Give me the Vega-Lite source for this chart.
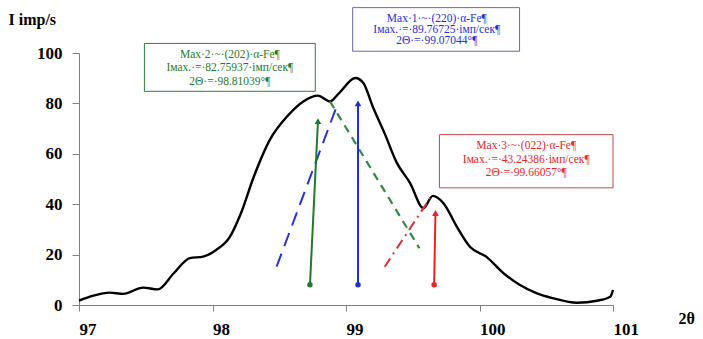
{
  "$schema": "https://vega.github.io/schema/vega-lite/v6.json",
  "autosize": {"type": "none"},
  "width": 534,
  "height": 252,
  "padding": {"left": 79, "top": 53, "right": 90, "bottom": 34},
  "background": "white",
  "config": {"view": {"stroke": null}},
  "datasets": {
    "curve": [
      {"t": 97.0, "i": 1.7}, {"t": 97.107, "i": 3.7}, {"t": 97.23, "i": 4.9}, {"t": 97.33, "i": 4.4},
      {"t": 97.48, "i": 6.9}, {"t": 97.59, "i": 6.2}, {"t": 97.71, "i": 12.6}, {"t": 97.83, "i": 18.6},
      {"t": 97.93, "i": 19.2}, {"t": 98.03, "i": 21.9}, {"t": 98.13, "i": 27.0}, {"t": 98.21, "i": 36.0},
      {"t": 98.31, "i": 51.0}, {"t": 98.43, "i": 65.6}, {"t": 98.56, "i": 74.9}, {"t": 98.68, "i": 80.8},
      {"t": 98.79, "i": 83.1}, {"t": 98.88, "i": 80.8}, {"t": 98.95, "i": 84.2}, {"t": 99.07, "i": 90.1},
      {"t": 99.13, "i": 88.1}, {"t": 99.2, "i": 78.8}, {"t": 99.29, "i": 68.0}, {"t": 99.38, "i": 56.5},
      {"t": 99.48, "i": 48.4}, {"t": 99.58, "i": 38.4}, {"t": 99.65, "i": 43.3}, {"t": 99.73, "i": 40.4},
      {"t": 99.83, "i": 31.1}, {"t": 99.93, "i": 23.0}, {"t": 100.05, "i": 19.2}, {"t": 100.18, "i": 12.6},
      {"t": 100.3, "i": 8.0}, {"t": 100.43, "i": 4.6}, {"t": 100.55, "i": 2.7}, {"t": 100.73, "i": 0.9},
      {"t": 100.88, "i": 1.7}, {"t": 100.98, "i": 3.3}, {"t": 101.0, "i": 6.0}
    ],
    "arrows": [
      {"peak": "p2", "x": 98.73, "y": 8, "x2": 98.79, "y2": 73},
      {"peak": "p1", "x": 99.09, "y": 8, "x2": 99.09, "y2": 80},
      {"peak": "p3", "x": 99.66, "y": 8, "x2": 99.67, "y2": 36.5}
    ],
    "boxes": [
      {"peak": "p2", "x": 97.49, "x2": 98.77, "y": 103.8, "y2": 84.8},
      {"peak": "p1", "x": 99.05, "x2": 100.3, "y": 118.0, "y2": 100.7},
      {"peak": "p3", "x": 99.7, "x2": 101.0, "y": 67.6, "y2": 46.5}
    ],
    "labels": [
      {"peak": "p2", "x": 98.13, "y": 99.4, "txt": "Max·2·~·(202)·α-Fe¶"},
      {"peak": "p2", "x": 98.13, "y": 94.0, "txt": "Iмах.·=·82.75937·імп/сек¶"},
      {"peak": "p2", "x": 98.13, "y": 88.6, "txt": "2Θ·=·98.81039°¶"},
      {"peak": "p1", "x": 99.68, "y": 113.6, "txt": "Max·1·~·(220)·α-Fe¶"},
      {"peak": "p1", "x": 99.68, "y": 109.2, "txt": "Iмах.·=·89.76725·імп/сек¶"},
      {"peak": "p1", "x": 99.68, "y": 104.8, "txt": "2Θ·=·99.07044°¶"},
      {"peak": "p3", "x": 100.35, "y": 62.9, "txt": "Max·3·~·(022)·α-Fe¶"},
      {"peak": "p3", "x": 100.35, "y": 57.6, "txt": "Iмах.·=·43.24386·імп/сек¶"},
      {"peak": "p3", "x": 100.35, "y": 52.3, "txt": "2Θ·=·99.66057°¶"}
    ]
  },
  "layer": [
    {
      "data": {"name": "curve"},
      "mark": {"type": "line", "color": "black", "strokeWidth": 2.4, "interpolate": "monotone"},
      "encoding": {
        "x": {
          "field": "t", "type": "quantitative",
          "scale": {"domain": [97, 101], "nice": false, "zero": false},
          "axis": {
            "values": [97, 98, 99, 100, 101], "grid": false, "format": "d",
            "domainColor": "#808080", "tickColor": "#808080", "tickSize": 6,
            "labelFont": "Liberation Serif", "labelFontWeight": "bold", "labelFontSize": 17,
            "labelColor": "black", "labelAlign": "left", "labelPadding": 10, "labelFlush": false,
            "title": "2θ", "titleFont": "Liberation Serif", "titleFontWeight": "bold", "titleFontSize": 16,
            "titleColor": "black", "titleAnchor": "start", "titleAlign": "left", "titleBaseline": "alphabetic",
            "titleX": 599, "titleY": 18
          }
        },
        "y": {
          "field": "i", "type": "quantitative",
          "scale": {"domain": [0, 100], "nice": false},
          "axis": {
            "values": [0, 20, 40, 60, 80, 100], "grid": false,
            "domainColor": "#808080", "tickColor": "#808080", "tickSize": 7,
            "labelFont": "Liberation Serif", "labelFontWeight": "bold", "labelFontSize": 17,
            "labelColor": "black", "labelPadding": 10,
            "title": "I imp/s", "titleFont": "Liberation Serif", "titleFontWeight": "bold", "titleFontSize": 16,
            "titleColor": "black", "titleAngle": 0, "titleAlign": "left", "titleBaseline": "alphabetic",
            "titleX": -71, "titleY": -29
          }
        }
      }
    },
    {
      "data": {"values": [{"x": 98.48, "y": 15.2, "x2": 98.94, "y2": 80.2}]},
      "mark": {"type": "rule", "color": "#2233dd", "strokeWidth": 2, "strokeDash": [14, 8]},
      "encoding": {
        "x": {"field": "x", "type": "quantitative"}, "y": {"field": "y", "type": "quantitative"},
        "x2": {"field": "x2"}, "y2": {"field": "y2"}
      }
    },
    {
      "data": {"values": [{"x": 98.88, "y": 80.8, "x2": 99.55, "y2": 22.5}]},
      "mark": {"type": "rule", "color": "#2e8b3e", "strokeWidth": 2.2, "strokeDash": [8, 6]},
      "encoding": {
        "x": {"field": "x", "type": "quantitative"}, "y": {"field": "y", "type": "quantitative"},
        "x2": {"field": "x2"}, "y2": {"field": "y2"}
      }
    },
    {
      "data": {"values": [{"x": 99.29, "y": 15.2, "x2": 99.63, "y2": 42.4}]},
      "mark": {"type": "rule", "color": "#e03030", "strokeWidth": 2, "strokeDash": [10, 5, 2, 5]},
      "encoding": {
        "x": {"field": "x", "type": "quantitative"}, "y": {"field": "y", "type": "quantitative"},
        "x2": {"field": "x2"}, "y2": {"field": "y2"}
      }
    },
    {
      "data": {"name": "arrows"},
      "mark": {"type": "rule", "strokeWidth": 2},
      "encoding": {
        "x": {"field": "x", "type": "quantitative"}, "y": {"field": "y", "type": "quantitative"},
        "x2": {"field": "x2"}, "y2": {"field": "y2"},
        "color": {"field": "peak", "type": "nominal", "legend": null,
          "scale": {"domain": ["p1", "p2", "p3"], "range": ["#1f2fd8", "#1f7a2a", "#e82525"]}}
      }
    },
    {
      "data": {"name": "arrows"},
      "mark": {"type": "point", "shape": "triangle-up", "size": 45, "filled": true, "opacity": 1},
      "encoding": {
        "x": {"field": "x2", "type": "quantitative"}, "y": {"field": "y2", "type": "quantitative"},
        "color": {"field": "peak", "type": "nominal", "legend": null,
          "scale": {"domain": ["p1", "p2", "p3"], "range": ["#1f2fd8", "#1f7a2a", "#e82525"]}}
      }
    },
    {
      "data": {"name": "arrows"},
      "mark": {"type": "point", "shape": "circle", "size": 30, "filled": true, "opacity": 1},
      "encoding": {
        "x": {"field": "x", "type": "quantitative"}, "y": {"field": "y", "type": "quantitative"},
        "color": {"field": "peak", "type": "nominal", "legend": null,
          "scale": {"domain": ["p1", "p2", "p3"], "range": ["#1f2fd8", "#1f7a2a", "#e82525"]}}
      }
    },
    {
      "data": {"name": "boxes"},
      "mark": {"type": "rect", "fill": "white", "strokeWidth": 1},
      "encoding": {
        "x": {"field": "x", "type": "quantitative"}, "x2": {"field": "x2"},
        "y": {"field": "y", "type": "quantitative"}, "y2": {"field": "y2"},
        "stroke": {"field": "peak", "type": "nominal", "legend": null,
          "scale": {"domain": ["p1", "p2", "p3"], "range": ["#6a6aa8", "#2e7d40", "#c04a4a"]}}
      }
    },
    {
      "data": {"name": "labels"},
      "mark": {"type": "text", "font": "Liberation Serif", "fontSize": 11.5, "align": "center", "baseline": "middle"},
      "encoding": {
        "x": {"field": "x", "type": "quantitative"}, "y": {"field": "y", "type": "quantitative"},
        "text": {"field": "txt"},
        "color": {"field": "peak", "type": "nominal", "legend": null,
          "scale": {"domain": ["p1", "p2", "p3"], "range": ["#2a2aa0", "#1a8a2a", "#d01a1a"]}}
      }
    }
  ]
}
